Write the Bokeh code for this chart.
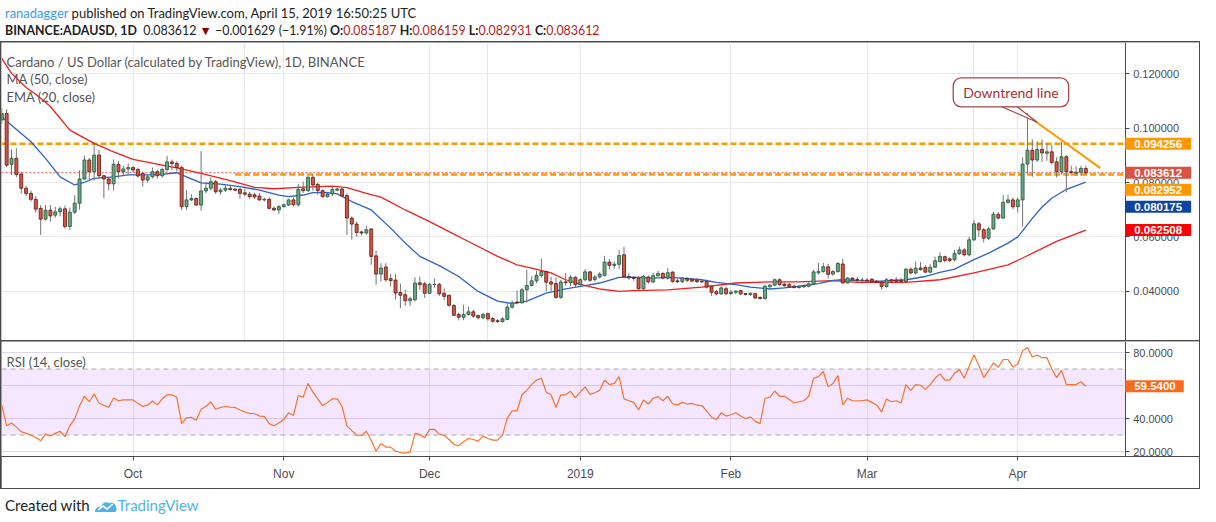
import pandas as pd
from bokeh.plotting import figure
from bokeh.layouts import column
from bokeh.models import (Range1d, FixedTicker, Grid, Label, BoxAnnotation, Div,
                          NumeralTickFormatter, ColumnDataSource)
from bokeh.embed import file_html
from bokeh.resources import INLINE

# daily candles, BINANCE:ADAUSD, 2018-09-04 .. 2019-04-15
START = "2018-09-04"
OPEN = [
    .1030, .1054, .0867, .0889, .0831, .0779, .0760, .0738, .0705, .0665,
    .0698, .0680, .0692, .0703, .0638, .0691, .0724, .0813, .0883, .0840,
    .0901, .0825, .0813, .0795, .0867, .0840, .0850, .0855, .0848, .0833,
    .0809, .0821, .0840, .0825, .0848, .0876, .0870, .0855, .0711, .0736,
    .0741, .0717, .0769, .0779, .0803, .0766, .0772, .0779, .0776, .0775,
    .0762, .0757, .0755, .0750, .0736, .0738, .0705, .0699, .0711, .0717,
    .0736, .0718, .0777, .0770, .0819, .0793, .0770, .0748, .0758, .0772,
    .0776, .0752, .0669, .0647, .0618, .0614, .0629, .0530, .0463, .0489,
    .0446, .0441, .0395, .0387, .0365, .0369, .0431, .0427, .0392, .0424,
    .0425, .0392, .0385, .0347, .0314, .0304, .0314, .0324, .0310, .0302,
    .0317, .0299, .0291, .0288, .0296, .0341, .0360, .0357, .0405, .0421,
    .0438, .0458, .0472, .0434, .0428, .0377, .0434, .0432, .0451, .0424,
    .0442, .0471, .0443, .0452, .0458, .0507, .0495, .0499, .0534, .0454,
    .0449, .0447, .0409, .0452, .0434, .0457, .0465, .0448, .0470, .0438,
    .0435, .0446, .0444, .0440, .0436, .0436, .0417, .0398, .0390, .0409,
    .0391, .0396, .0402, .0391, .0388, .0391, .0377, .0373, .0416, .0422,
    .0442, .0426, .0424, .0418, .0413, .0416, .0418, .0426, .0468, .0472,
    .0490, .0463, .0472, .0500, .0430, .0448, .0443, .0440, .0441, .0444,
    .0437, .0433, .0417, .0442, .0441, .0440, .0436, .0481, .0467, .0485,
    .0487, .0470, .0488, .0509, .0527, .0519, .0516, .0538, .0552, .0534,
    .0589, .0648, .0626, .0595, .0629, .0683, .0669, .0727, .0736, .0711,
    .0736, .0868, .0919, .0883, .0922, .0908, .0913, .0876, .0840, .0895,
    .0840, .0835, .0838, .085187,
]
HIGH = [
    .1075, .1070, .0922, .0926, .0840, .0788, .0770, .0750, .0717, .0717,
    .0717, .0710, .0712, .0715, .0708, .0753, .0845, .0900, .0890, .0941,
    .0920, .0828, .0820, .0885, .0880, .0862, .0870, .0860, .0855, .0840,
    .0832, .0855, .0848, .0855, .0898, .0885, .0878, .0862, .0772, .0757,
    .0746, .0916, .0801, .0818, .0810, .0780, .0790, .0788, .0778, .0781,
    .0777, .0766, .0763, .0762, .0745, .0745, .0712, .0718, .0722, .0740,
    .0745, .0795, .0804, .0825, .0830, .0800, .0775, .0765, .0785, .0780,
    .0780, .0760, .0675, .0656, .0622, .0640, .0632, .0549, .0503, .0503,
    .0464, .0463, .0428, .0405, .0380, .0451, .0453, .0435, .0430, .0447,
    .0430, .0410, .0387, .0353, .0321, .0350, .0343, .0332, .0314, .0321,
    .0321, .0305, .0297, .0305, .0354, .0365, .0402, .0412, .0479, .0455,
    .0475, .0519, .0475, .0452, .0450, .0442, .0467, .0460, .0455, .0448,
    .0480, .0474, .0460, .0470, .0530, .0519, .0510, .0552, .0564, .0466,
    .0456, .0455, .0460, .0458, .0468, .0475, .0470, .0485, .0473, .0445,
    .0453, .0452, .0448, .0448, .0440, .0442, .0423, .0405, .0418, .0417,
    .0405, .0403, .0405, .0393, .0395, .0393, .0380, .0424, .0426, .0447,
    .0447, .0431, .0430, .0424, .0422, .0424, .0433, .0479, .0504, .0504,
    .0501, .0478, .0507, .0519, .0452, .0452, .0452, .0450, .0448, .0448,
    .0441, .0439, .0448, .0444, .0452, .0449, .0485, .0487, .0509, .0507,
    .0496, .0499, .0527, .0543, .0531, .0525, .0552, .0564, .0558, .0601,
    .0662, .0655, .0633, .0637, .0692, .0692, .0754, .0754, .0745, .0745,
    .0893, .1056, .0959, .0952, .0959, .0945, .0937, .0893, .0950, .0901,
    .0862, .0860, .0862, .086159,
]
LOW = [
    .1015, .0857, .0828, .0820, .0760, .0750, .0730, .0690, .0607, .0660,
    .0656, .0670, .0675, .0630, .0626, .0683, .0700, .0810, .0810, .0807,
    .0815, .0743, .0771, .0770, .0815, .0825, .0830, .0838, .0818, .0785,
    .0800, .0815, .0815, .0818, .0840, .0845, .0840, .0699, .0699, .0731,
    .0714, .0696, .0760, .0770, .0758, .0755, .0765, .0770, .0768, .0741,
    .0750, .0740, .0739, .0733, .0730, .0700, .0695, .0684, .0708, .0714,
    .0712, .0712, .0762, .0765, .0770, .0755, .0745, .0745, .0750, .0768,
    .0747, .0607, .0589, .0600, .0605, .0608, .0497, .0424, .0436, .0435,
    .0418, .0369, .0338, .0346, .0346, .0362, .0405, .0375, .0390, .0412,
    .0382, .0367, .0343, .0309, .0293, .0293, .0310, .0302, .0296, .0296,
    .0291, .0284, .0284, .0284, .0293, .0336, .0352, .0354, .0358, .0417,
    .0430, .0450, .0399, .0400, .0372, .0372, .0420, .0418, .0414, .0416,
    .0436, .0434, .0435, .0447, .0454, .0480, .0482, .0481, .0448, .0442,
    .0438, .0405, .0405, .0428, .0429, .0453, .0443, .0442, .0430, .0430,
    .0430, .0433, .0433, .0430, .0430, .0410, .0383, .0384, .0386, .0386,
    .0385, .0389, .0385, .0384, .0382, .0370, .0369, .0369, .0413, .0418,
    .0420, .0416, .0413, .0411, .0410, .0412, .0414, .0424, .0461, .0468,
    .0446, .0457, .0468, .0428, .0428, .0437, .0431, .0435, .0434, .0430,
    .0428, .0406, .0413, .0434, .0433, .0428, .0433, .0461, .0461, .0476,
    .0466, .0466, .0485, .0505, .0505, .0507, .0510, .0534, .0528, .0528,
    .0584, .0600, .0579, .0588, .0626, .0665, .0666, .0722, .0702, .0690,
    .0638, .0834, .0821, .0876, .0876, .0880, .0866, .0819, .0830, .0764,
    .0825, .0826, .0825, .082931,
]
CLOSE = [
    .1054, .0864, .0889, .0830, .0779, .0760, .0738, .0702, .0665, .0698,
    .0677, .0692, .0703, .0638, .0691, .0724, .0813, .0883, .0840, .0901,
    .0825, .0813, .0795, .0867, .0840, .0850, .0855, .0846, .0824, .0809,
    .0821, .0840, .0825, .0848, .0876, .0870, .0855, .0711, .0736, .0741,
    .0717, .0769, .0779, .0803, .0766, .0772, .0779, .0774, .0772, .0760,
    .0757, .0748, .0747, .0736, .0738, .0705, .0699, .0711, .0718, .0736,
    .0718, .0775, .0770, .0819, .0791, .0770, .0748, .0758, .0774, .0776,
    .0750, .0669, .0647, .0616, .0614, .0626, .0528, .0463, .0485, .0442,
    .0439, .0393, .0385, .0365, .0372, .0430, .0424, .0392, .0424, .0425,
    .0390, .0381, .0348, .0311, .0304, .0314, .0324, .0308, .0302, .0314,
    .0298, .0289, .0288, .0298, .0341, .0357, .0357, .0405, .0421, .0438,
    .0458, .0472, .0433, .0426, .0377, .0434, .0432, .0451, .0424, .0442,
    .0471, .0440, .0452, .0463, .0507, .0495, .0499, .0531, .0454, .0449,
    .0447, .0409, .0454, .0434, .0457, .0465, .0448, .0468, .0436, .0435,
    .0448, .0440, .0437, .0435, .0434, .0415, .0396, .0390, .0412, .0391,
    .0396, .0400, .0390, .0388, .0392, .0375, .0373, .0418, .0422, .0442,
    .0424, .0420, .0416, .0413, .0416, .0420, .0427, .0471, .0472, .0490,
    .0462, .0472, .0502, .0430, .0448, .0442, .0440, .0441, .0439, .0436,
    .0433, .0417, .0442, .0437, .0436, .0436, .0481, .0467, .0485, .0479,
    .0470, .0488, .0512, .0528, .0513, .0513, .0538, .0552, .0534, .0589,
    .0648, .0626, .0595, .0629, .0683, .0669, .0727, .0736, .0711, .0736,
    .0868, .0919, .0883, .0922, .0909, .0913, .0874, .0840, .0895, .0840,
    .0837, .0838, .0852, .083612,
]
RSI = [
    48.1, 35.6, 37.3, 34.8, 32.1, 31.0, 30.0, 28.5, 26.5, 30.6,
    29.4, 31.0, 32.3, 29.0, 35.6, 39.8, 47.7, 53.5, 50.2, 54.8,
    49.4, 48.1, 46.7, 52.5, 50.8, 51.3, 51.3, 51.3, 49.2, 47.3,
    48.1, 50.6, 48.3, 51.9, 54.4, 54.4, 52.9, 36.9, 40.4, 40.8,
    39.0, 45.6, 47.3, 50.2, 45.6, 46.7, 47.3, 46.9, 46.7, 45.2,
    44.0, 43.1, 42.9, 41.5, 41.3, 36.9, 35.6, 37.3, 39.4, 43.5,
    41.9, 54.0, 52.9, 61.3, 56.0, 51.9, 47.7, 49.8, 51.9, 51.9,
    47.3, 35.6, 32.7, 30.0, 29.8, 32.3, 26.9, 20.2, 24.8, 22.7,
    22.7, 20.2, 19.4, 19.0, 19.6, 31.0, 30.4, 28.3, 33.5, 33.5,
    30.6, 29.8, 27.3, 24.4, 23.5, 26.0, 27.9, 27.3, 26.3, 29.4,
    27.9, 26.9, 26.9, 29.8, 40.4, 44.6, 44.6, 54.4, 57.1, 60.6,
    63.3, 64.4, 56.0, 54.4, 46.7, 54.4, 54.4, 56.5, 52.7, 56.0,
    59.2, 54.6, 55.6, 57.1, 63.3, 60.6, 61.3, 65.4, 51.9, 50.8,
    49.8, 45.2, 51.3, 48.8, 52.3, 53.3, 50.8, 53.5, 48.8, 48.3,
    49.8, 48.8, 49.2, 48.1, 47.9, 44.6, 40.8, 39.4, 43.5, 41.5,
    42.3, 43.5, 41.5, 40.0, 41.0, 38.3, 36.9, 52.3, 52.9, 56.7,
    53.5, 53.5, 51.5, 49.4, 50.2, 50.8, 53.5, 64.4, 65.4, 68.5,
    59.2, 61.3, 66.0, 48.3, 52.3, 50.8, 50.8, 50.8, 51.3, 49.8,
    48.1, 44.0, 51.9, 50.2, 50.8, 49.4, 60.6, 57.1, 60.6, 60.2,
    57.7, 60.6, 64.4, 67.1, 63.3, 63.3, 67.5, 69.6, 64.4, 71.7,
    78.5, 72.3, 64.8, 69.0, 73.8, 71.0, 75.8, 75.8, 71.3, 73.1,
    81.0, 83.1, 77.3, 78.5, 76.9, 76.9, 70.0, 64.8, 69.2, 60.6,
    60.6, 60.6, 62.3, 59.54,
]
# moving averages (day number from START, value)
MA50_DAY = [0, 2, 5, 7, 10, 14, 19, 23, 27, 33, 37, 41, 47, 52, 56, 61, 68, 71, 75, 78,
            83, 88, 92, 96, 102, 106, 109, 113, 116, 120, 123, 127, 130, 137, 144, 151,
            158, 164, 171, 176, 186, 193, 200, 207, 210, 217, 223]
MA50 = [.1257, .1202, .1150, .1125, .1080, .0993, .0944, .0913, .0885, .0864, .0850,
        .0834, .0807, .0782, .0777, .0782, .0787, .0781, .0760, .0746, .0699, .0656,
        .0619, .0583, .0528, .0497, .0485, .0467, .0442, .0420, .0408, .0399, .0402,
        .0405, .0415, .0430, .0434, .0434, .0439, .0432, .0432, .0442, .0467, .0497,
        .0522, .0583, .062508]
EMA20_DAY = [0, 6, 9, 12, 15, 17, 19, 23, 26, 30, 33, 36, 38, 41, 45, 49, 53, 57, 59, 62,
             64, 67, 69, 72, 76, 80, 83, 86, 90, 94, 98, 102, 105, 108, 112, 116, 120,
             123, 127, 130, 134, 137, 140, 144, 147, 151, 154, 158, 161, 164, 168, 171,
             173, 176, 180, 186, 190, 193, 196, 200, 203, 207, 209, 210, 212, 214, 216,
             219, 223]
EMA20 = [.1041, .0950, .0889, .0821, .0791, .0801, .0815, .0821, .0828, .0828, .0830,
         .0836, .0821, .0799, .0794, .0785, .0772, .0754, .0748, .0754, .0763, .0763,
         .0758, .0730, .0699, .0632, .0577, .0528, .0494, .0454, .0399, .0363, .0354,
         .0363, .0393, .0408, .0420, .0430, .0451, .0452, .0448, .0451, .0448, .0442,
         .0432, .0424, .0415, .0408, .0412, .0418, .0428, .0440, .0442, .0439, .0436,
         .0442, .0454, .0469, .0481, .0516, .0540, .0577, .0600, .0622, .0668, .0710,
         .0742, .0775, .080175]
RESISTANCE = 0.094256
SUPPORT = 0.082952
SUPPORT_FROM = 48
TREND_DAY = [211.2, 226.0]
TREND_PRICE = [0.1044, 0.0853]

UP, UP_LINE = "#6ba583", "#225437"
DOWN, DOWN_LINE = "#d75442", "#5b1a13"
BORDER = "#4a4a4a"
GRID = "#e9e9e9"
AXIS_TXT = "#4d4d4d"

# geometry: the frame runs over the whole width; the price scale sits at X_SEP inside it
W = 1198
MAIN_H, RSI_H, TIME_H = 298, 147, 32
PX_PER_DAY = 4.861
X0, X_SEP = -0.06, 231.1
X_END = X0 + W / PX_PER_DAY
P0, P1 = 0.02183, 0.13156

dates = pd.date_range(START, periods=len(CLOSE), freq="D")
idx = list(range(len(CLOSE)))
month_idx = [i for i, d in enumerate(dates) if d.day == 1]
month_lab = {i: (str(dates[i].year) if dates[i].month == 1 else dates[i].strftime("%b"))
             for i in month_idx}


def style_price_axis(fig, ticks, fmt):
    ax = fig.yaxis[0]
    ax.fixed_location = X_SEP
    ax.ticker = FixedTicker(ticks=ticks)
    ax.formatter = NumeralTickFormatter(format=fmt)
    ax.axis_line_color = BORDER
    ax.major_tick_line_color = BORDER
    ax.major_tick_in = 0
    ax.major_tick_out = 4
    ax.minor_tick_line_color = None
    ax.major_label_standoff = 4
    ax.major_label_text_font = "Liberation Sans"
    ax.major_label_text_font_size = "11px"
    ax.major_label_text_color = AXIS_TXT
    # blank out the grid inside the price-scale column
    fig.add_layout(BoxAnnotation(left=X_SEP, fill_color="white", fill_alpha=1,
                                 line_color=None, level="underlay"))


def axis_tag(fig, y, text, color, right=9):
    fig.add_layout(Label(x=X_SEP, y=y, text=text, text_align="left", text_baseline="middle",
                         text_font="Liberation Sans", text_font_size="11.5px",
                         text_font_style="bold", text_color="white",
                         background_fill_color=color,
                         padding=dict(left=9, right=right, top=2, bottom=2)))


x_range = Range1d(X0, X_END)

main = figure(width=W, height=MAIN_H, x_range=x_range, y_range=Range1d(P0, P1),
              x_axis_location=None, y_axis_location="right", toolbar_location=None,
              output_backend="svg", min_border_left=0, min_border_top=0,
              min_border_bottom=0, min_border_right=0)
main.outline_line_color = None
main.add_layout(Grid(dimension=0, ticker=FixedTicker(ticks=month_idx), grid_line_color=GRID))
main.ygrid.grid_line_color = GRID
style_price_axis(main, [0.04, 0.06, 0.08, 0.10, 0.12], "0.000000")

src = ColumnDataSource(dict(
    x=idx, h=HIGH, l=LOW,
    top=[max(o, c) for o, c in zip(OPEN, CLOSE)],
    bottom=[min(o, c) for o, c in zip(OPEN, CLOSE)],
    fill=[UP if c >= o else DOWN for o, c in zip(OPEN, CLOSE)],
    edge=[UP_LINE if c >= o else DOWN_LINE for o, c in zip(OPEN, CLOSE)],
))

# horizontal levels drawn by the author, plus the last-price line
main.segment(x0=[X0, SUPPORT_FROM], y0=[RESISTANCE, SUPPORT], x1=[X_SEP, X_SEP],
             y1=[RESISTANCE, SUPPORT], line_color="#ff9800", line_width=2.5, line_dash="6 3")
main.segment(x0=[X0], y0=[CLOSE[-1]], x1=[X_SEP], y1=[CLOSE[-1]], line_color=DOWN,
             line_width=1, line_dash="2 2")

main.line(MA50_DAY, MA50, line_color="#f01e1e", line_width=1.3)
main.line(EMA20_DAY, EMA20, line_color="#2c62c6", line_width=1.3)

main.segment("x", "h", "x", "l", source=src, line_color="#737375", line_width=1)
main.vbar(x="x", width=0.62, top="top", bottom="bottom", source=src,
          fill_color="fill", line_color="edge", line_width=0.8)

main.line(TREND_DAY, TREND_PRICE, line_color="#ff9800", line_width=2)

# callout
main.patch([205.6, 208.8, 213.0], [0.1080, 0.1080, 0.1022], fill_color="white",
           line_color="#a84848", line_width=1.2)
main.add_layout(Label(x=207.6, y=0.1132, text="Downtrend line", text_align="center",
                      text_baseline="middle", text_font="Lato", text_font_size="14px",
                      text_color="#a83232", background_fill_color="white",
                      border_line_color="#a84848", border_line_width=1.3,
                      padding=dict(left=10, right=10, top=6, bottom=6), border_radius=8))

# legend texts
for txt, dy in [("Cardano / US Dollar (calculated by TradingView), 1D, BINANCE", 19),
                ("MA (50, close)", 36), ("EMA (20, close)", 54)]:
    main.add_layout(Label(x=5, y=MAIN_H - dy, x_units="screen", y_units="screen", text=txt,
                          text_baseline="middle", text_font="Lato", text_font_size="13px",
                          text_color="#555555"))

# value tags on the price scale, pushed apart so they do not overlap
px_per_unit = MAIN_H / (P1 - P0)
tag_h = 17 / px_per_unit
tags = sorted([(RESISTANCE, "#ff9800"), (CLOSE[-1], DOWN), (SUPPORT, "#ff9800"),
               (EMA20[-1], "#0d43a3"), (MA50[-1], "#ff0000")], key=lambda t: -t[0])
last = None
for val, col in tags:
    pos = val if last is None else min(val, last - tag_h)
    last = pos
    axis_tag(main, pos, f"{val:.6f}", col)

# RSI panel
rsi = figure(width=W, height=RSI_H, x_range=x_range, y_range=Range1d(17, 86.7),
             y_axis_location="right", toolbar_location=None, output_backend="svg",
             min_border_left=0, min_border_top=0, min_border_bottom=TIME_H,
             min_border_right=0)
rsi.outline_line_color = None
rsi.add_layout(BoxAnnotation(bottom=30, top=70, right=X_SEP, fill_color="#9915ff",
                             fill_alpha=0.1, line_color=None, level="underlay"))
rsi.xaxis.ticker = FixedTicker(ticks=month_idx)
rsi.xaxis.major_label_overrides = month_lab
rsi.xgrid.grid_line_color = GRID
rsi.ygrid.grid_line_color = "#e0d8e8"
xa = rsi.xaxis[0]
xa.axis_line_color = BORDER
xa.major_tick_line_color = BORDER
xa.major_tick_in = 0
xa.major_tick_out = 4
xa.minor_tick_line_color = None
xa.major_label_standoff = 6
xa.major_label_text_font = "Liberation Sans"
xa.major_label_text_font_size = "12px"
xa.major_label_text_color = AXIS_TXT
style_price_axis(rsi, [20, 40, 60, 80], "0.0000")

rsi.segment(x0=[X0, X0], y0=[70, 30], x1=[X_SEP, X_SEP], y1=[70, 30], line_color="#a8a8a8",
            line_width=1, line_dash="5 4")
rsi.line(idx, RSI, line_color="#f7732a", line_width=1.2)
rsi.add_layout(Label(x=5, y=RSI_H - TIME_H - 20, x_units="screen", y_units="screen",
                     text="RSI (14, close)", text_baseline="middle", text_font="Lato",
                     text_font_size="13px", text_color="#555555"))
axis_tag(rsi, RSI[-1], f"{RSI[-1]:.4f}", "#fb6a1c", right=8)

red = "color:#b31b1b"
header = Div(width=1200, height=31, text=(
    '<div style="font-family:Lato;font-size:13px;line-height:17px;color:#222;margin:0;'
    'white-space:nowrap">'
    '<span style="color:#3d9be9">ranadagger</span> published on TradingView.com, '
    'April 15, 2019 16:50:25 UTC<br>'
    '<span style="font-size:12.4px"><b>BINANCE:ADAUSD, 1D</b>&nbsp; 0.083612 '
    '<span style="color:#8b0000">&#9660;</span> '
    '&minus;0.001629 (&minus;1.91%) '
    f'<b>O:</b><span style="{red}">0.085187</span> '
    f'<b>H:</b><span style="{red}">0.086159</span> '
    f'<b>L:</b><span style="{red}">0.082931</span> '
    f'<b>C:</b><span style="{red}">0.083612</span></span></div>'))

footer = Div(width=1200, height=24, text=(
    '<div style="font-family:Lato;font-size:15px;line-height:22px;color:#222;margin:0;'
    'white-space:nowrap">Created with '
    '<svg width="24" height="14" viewBox="0 0 24 14" style="vertical-align:-2px">'
    '<path d="M1 13 C1 8 5 7 7 8 C8 4 12 2 15 4 C17 3 22 4 22 8 C23 9 23 13 21 13 Z" '
    'fill="#4fb3e8"/><path d="M4 11 L9 7 L13 10 L19 5" stroke="white" stroke-width="1.6" '
    'fill="none"/></svg>'
    '<span style="color:#4fb3e8">TradingView</span></div>'))

chart = column(main, rsi, spacing=1, styles={"background-color": BORDER, "padding": "1px"})
page = column(header, chart, footer)

open("out.html", "w").write(file_html(page, INLINE))
